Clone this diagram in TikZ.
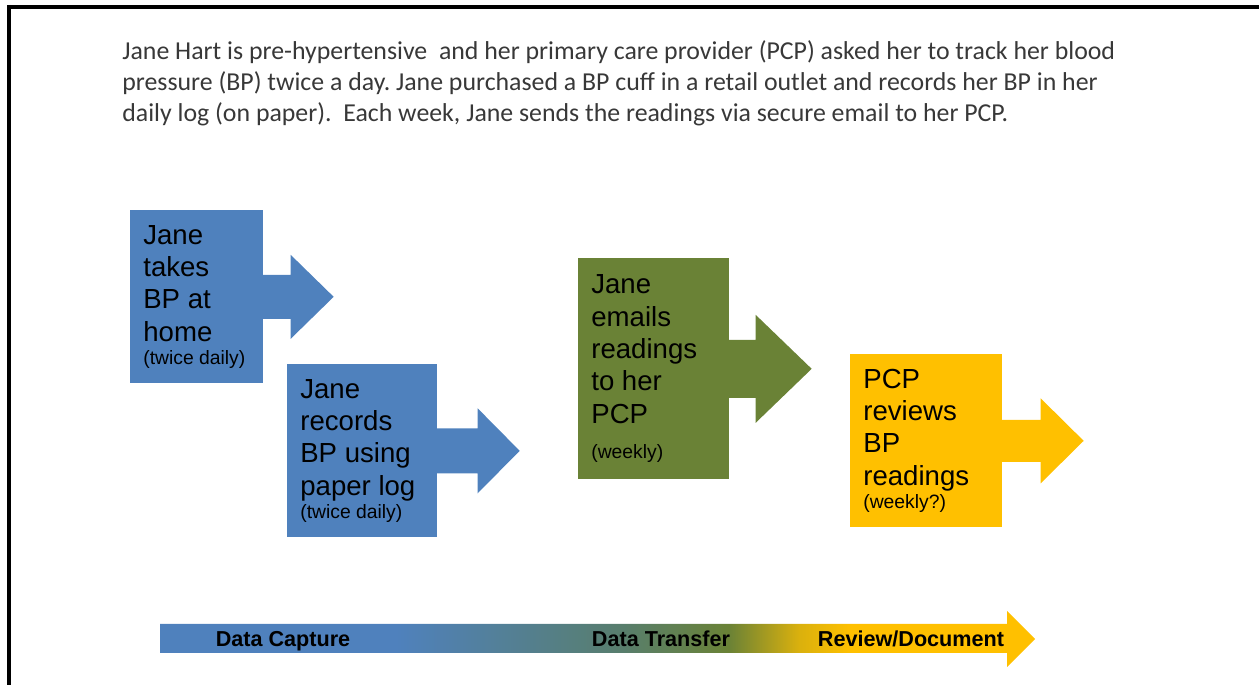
\documentclass[tikz,border=0pt]{standalone}
\usepackage{fontspec}
\setmainfont{Liberation Sans}
\newfontfamily\storyfont{Carlito}
\frenchspacing
\definecolor{capblue}{RGB}{79,129,189}
\definecolor{sendgreen}{RGB}{106,130,54}
\definecolor{reviewgold}{RGB}{255,192,0}
\definecolor{storygray}{RGB}{56,56,56}
\definecolor{barteal}{RGB}{88,126,108}
\colorlet{barochre}{reviewgold!75!sendgreen}
\pgfdeclarehorizontalshading{phasebar}{100bp}{color(0bp)=(capblue); color(25bp)=(capblue); color(38.5bp)=(capblue); color(51.5bp)=(barteal); color(57.5bp)=(sendgreen); color(61.5bp)=(barochre); color(64.5bp)=(reviewgold); color(75bp)=(reviewgold); color(100bp)=(reviewgold)}
\newcommand\howoften[1]{{\fontsize{11}{13}\selectfont #1}}
\tikzset{
    stepbox/.style={rectangle, anchor=north west, inner xsep=0.26cm, inner ysep=0pt,
        align=flush left, minimum height=3.46cm, font=\fontsize{15.7}{18.4}\selectfont},
    phase/.style={anchor=base, font=\bfseries\fontsize{12.3}{14}\selectfont}
}
\begin{document}
\begin{tikzpicture}[x=0.02cm, y=-0.02cm]
    \useasboundingbox (0,0) rectangle (1259,685);
    \draw[line width=0.08cm] (7,7) -- (1259,7);
    \draw[line width=0.08cm] (9,5) -- (9,685);

    \node [anchor=north west, inner sep=0pt, align=flush left, text=storygray,
      font=\storyfont\fontsize{14.7}{17.86}\selectfont] (story) at (122,40)
      {Jane Hart is pre-hypertensive\ \ and her primary care provider (PCP) asked her to track her blood\\
       pressure (BP) twice a day. Jane purchased a BP cuff in a retail outlet and records her BP in her\\
       daily log (on paper).\ \ Each week, Jane sends the readings via secure email to her PCP.};

    \node [stepbox, fill=capblue, text width=2.14cm] (home) at (130,210)
      {Jane\\ takes\\ BP at\\ home\\[-5pt] \howoften{(twice daily)}};
    \node [stepbox, fill=capblue, text width=2.48cm] (paper) at (287,364)
      {Jane\\ records\\ BP using\\ paper log\\[-5pt] \howoften{(twice daily)}};
    \node [stepbox, fill=sendgreen, text width=2.5cm, minimum height=4.42cm] (mail) at (578,258)
      {Jane\\ emails\\ readings\\ to her\\ PCP\\[2pt] \howoften{(weekly)}};
    \node [stepbox, fill=reviewgold, text width=2.52cm] (review) at (850,354)
      {PCP\\ reviews\\ BP\\ readings\\[-5pt] \howoften{(weekly?)}};

    \foreach \stage/\shaft/\half/\tip/\reach/\tone in
      {home/27/22/42/43/capblue, paper/40/22.5/42.5/42/capblue,
       mail/26/29/54/56/sendgreen, review/38/21/42.5/43/reviewgold}
      \fill[\tone] (\stage.east) ++(-1,-\half)
        -- ++(\shaft+1,0) -- ++(0,\half-\tip) -- ++(\reach,\tip)
        -- ++(-\reach,\tip) -- ++(0,\half-\tip) -- ++(-\shaft-1,0) -- cycle;

    \shade[shading=phasebar] (160,624) -- (1007,624) -- (1007,611) -- (1035,639)
      -- (1007,667) -- (1007,653) -- (160,653) -- cycle;
    \node [phase] (capture) at (283,647) {Data Capture};
    \node [phase] (transfer) at (661,647) {Data Transfer};
    \node [phase] (document) at (911,647) {Review/Document};
\end{tikzpicture}
\end{document}
